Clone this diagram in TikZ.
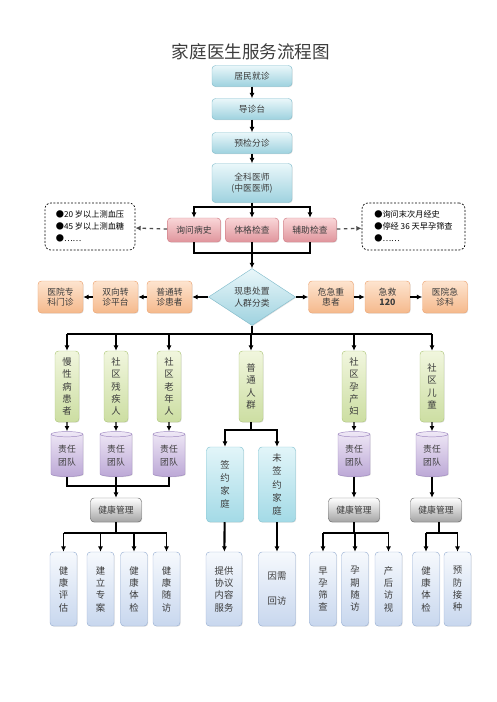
\documentclass[tikz,border=0pt]{standalone}
\usepackage{fontspec}
\setmainfont{Noto Sans CJK SC}
\usetikzlibrary{arrows.meta,shapes.geometric,shadows}

\definecolor{txt}{HTML}{3C3C3C}
\definecolor{blueTop}{HTML}{EAF7FA}
\definecolor{blueBot}{HTML}{9ED2DF}
\definecolor{blueEdge}{HTML}{86BFCE}
\definecolor{pinkTop}{HTML}{F9D6D8}
\definecolor{pinkBot}{HTML}{E0959C}
\definecolor{pinkEdge}{HTML}{D3838B}
\definecolor{orgTop}{HTML}{FDE4CF}
\definecolor{orgBot}{HTML}{F5B98C}
\definecolor{orgEdge}{HTML}{EDA675}
\definecolor{grnTop}{HTML}{F1F6DE}
\definecolor{grnBot}{HTML}{CCDEA2}
\definecolor{grnEdge}{HTML}{B2CA80}
\definecolor{purTop}{HTML}{EFE8F6}
\definecolor{purBot}{HTML}{BCA8D6}
\definecolor{purEdge}{HTML}{9E88C0}
\definecolor{gryBot}{HTML}{A4A4A4}
\definecolor{gryEdge}{HTML}{6A6A6A}
\definecolor{cynTop}{HTML}{E2F5F9}
\definecolor{cynBot}{HTML}{A3DAE6}
\definecolor{cynEdge}{HTML}{88C6D4}
\definecolor{palTop}{HTML}{F6F9FD}
\definecolor{palBot}{HTML}{C8D7EE}
\definecolor{palEdge}{HTML}{9DB3D5}

\tikzset{
  base/.style={rounded corners=3pt, inner sep=0pt, align=center, text=txt,
    font=\fontsize{7.5}{9}\selectfont,
    drop shadow={opacity=0.25, shadow xshift=0.6pt, shadow yshift=-0.6pt}},
  bluebox/.style={base, draw=blueEdge, top color=blueTop, bottom color=blueBot,
    minimum width=2.4cm, minimum height=0.63cm},
  pinkbox/.style={base, draw=pinkEdge, top color=pinkTop, bottom color=pinkBot,
    minimum width=1.6cm, minimum height=0.72cm},
  orgbox/.style={base, draw=orgEdge, top color=orgTop, bottom color=orgBot,
    minimum width=1.35cm, minimum height=0.96cm},
  grnbox/.style={base, draw=grnEdge, top color=grnTop, bottom color=grnBot,
    minimum width=0.72cm, minimum height=2.13cm, font=\fontsize{8}{10.6}\selectfont},
  team/.style={cylinder, shape border rotate=90, aspect=0.3, draw=purEdge,
    top color=purTop, bottom color=purBot, inner sep=0pt, align=center, text=txt,
    minimum width=0.96cm, minimum height=1.35cm, font=\fontsize{7.5}{11}\selectfont,
    drop shadow={opacity=0.25, shadow xshift=0.6pt, shadow yshift=-0.6pt}},
  mgmt/.style={base, draw=gryEdge, top color=white, bottom color=gryBot,
    minimum width=1.53cm, minimum height=0.72cm},
  cynbox/.style={base, draw=cynEdge, top color=cynTop, bottom color=cynBot,
    minimum width=1.11cm, minimum height=2.25cm, font=\fontsize{8}{11.3}\selectfont},
  palbox/.style={base, draw=palEdge, top color=palTop, bottom color=palBot,
    minimum width=0.81cm, minimum height=2.22cm, font=\fontsize{8}{10.5}\selectfont},
  note/.style={draw, rounded corners=5pt, line width=0.6pt, dash pattern=on 1.6pt off 1.4pt,
    align=left, text=black, inner sep=0pt, minimum height=1.41cm,
    font=\fontsize{7}{10.5}\selectfont},
  link/.style={line width=1pt},
  arr/.style={-{Latex[length=1.6mm,width=1.5mm]}, line width=1pt},
  darr/.style={-{Latex[length=1.6mm,width=1.5mm]}, line width=1.1pt, dashed, draw=gray!60!black},
}

\begin{document}
\begin{tikzpicture}[x=0.03cm,y=-0.03cm]
  \useasboundingbox (0,0) rectangle (496,702);
  \node[font=\fontsize{15}{18}\selectfont, text=txt] (title) at (251,52) {家庭医生服务流程图};

  % 就诊流程
  \node[bluebox] (jz) at (252,76) {居民就诊};
  \node[bluebox] (dz) at (252,109) {导诊台};
  \node[bluebox] (fz) at (252,143) {预检分诊};
  \node[bluebox, minimum height=1.17cm] (qk) at (252,183) {全科医师\\(中医医师)};
  \draw[arr] (jz) -- (dz);
  \draw[arr] (dz) -- (fz);
  \draw[arr] (fz) -- (qk);

  % 检查
  \node[pinkbox] (bs) at (194,230) {询问病史};
  \node[pinkbox] (tg) at (252,230) {体格检查};
  \node[pinkbox] (fj) at (310,230) {辅助检查};
  \coordinate (k1) at (252,207);
  \coordinate (k2) at (252,253);
  \draw[link] (qk) -- (k1);
  \draw[arr] (k1) -| (bs);
  \draw[arr] (k1) -| (fj);
  \draw[arr] (k1) -- (tg);
  \draw[link] (bs) |- (k2) -| (fj);

  \node[note, minimum width=2.7cm] (nl) at (90,226.5)
    {●20 岁以上测血压\\●45 岁以上测血糖\\●……};
  \node[note, minimum width=3.09cm] (nr) at (413.5,226.5)
    {●询问末次月经史\\●停经 36 天早孕筛查\\●……};
  \draw[darr] (bs) -- (nl);
  \draw[darr] (fj) -- (nr);

  % 分类
  \node[diamond, aspect=1.5, draw=blueEdge, top color=blueTop, bottom color=blueBot,
    minimum width=2.61cm, minimum height=1.71cm, inner sep=0pt, align=center, text=txt,
    font=\fontsize{7.5}{10.5}\selectfont,
    drop shadow={opacity=0.25, shadow xshift=0.6pt, shadow yshift=-0.6pt}]
    (fl) at (252,297) {现患处置\\人群分类};
  \draw[arr] (tg) -- (fl);

  \node[orgbox] (pz) at (169.5,297) {普通转\\诊患者};
  \node[orgbox] (sx) at (115.5,297) {双向转\\诊平台};
  \node[orgbox] (zk) at (60.5,297) {医院专\\科门诊};
  \node[orgbox] (wj) at (331,297) {危急重\\患者};
  \node[orgbox] (jj) at (387.5,297) {急救\\\textbf{120}};
  \node[orgbox] (jk) at (445,297) {医院急\\诊科};
  \draw[arr] (fl) -- (pz);
  \draw[arr] (pz) -- (sx);
  \draw[arr] (sx) -- (zk);
  \draw[arr] (fl) -- (wj);
  \draw[arr] (wj) -- (jj);
  \draw[arr] (jj) -- (jk);

  % 人群
  \node[grnbox] (mx) at (67,386.5) {慢\\性\\病\\患\\者};
  \node[grnbox] (cj) at (116,386.5) {社\\区\\残\\疾\\人};
  \node[grnbox] (ln) at (169,386.5) {社\\区\\老\\年\\人};
  \node[grnbox] (pt) at (251,386.5) {普\\通\\人\\群};
  \node[grnbox] (yc) at (354,386.5) {社\\区\\孕\\产\\妇};
  \node[grnbox] (et) at (432,386.5) {社\\区\\儿\\童};
  \coordinate (k3) at (252,334);
  \draw[link] (fl) -- (k3);
  \draw[link] (mx |- k3) -- (et |- k3);
  \foreach \n in {mx,cj,ln,pt,yc,et}
    \draw[arr] (\n |- k3) -- (\n);

  % 责任团队
  \foreach \n/\x in {mx/67,cj/116,ln/169,yc/354,et/432} {
    \node[team] (t\n) at (\x,455.5) {责任\\团队};
    \draw[arr] (\n) -- (t\n);
  }

  % 健康管理
  \node[mgmt] (g1) at (116,510) {健康管理};
  \node[mgmt] (g2) at (354,510) {健康管理};
  \node[mgmt] (g3) at (436,510) {健康管理};
  \coordinate (k4) at (116,486);
  \draw[link] (tmx) |- (k4) -| (tln);
  \draw[arr] (tcj) -- (g1);
  \draw[arr] (tyc) -- (g2);
  \draw[arr] (tet) -- (tet |- g3.north);

  % 普通人群分支
  \node[cynbox] (qy) at (225,484.5) {签\\约\\家\\庭};
  \node[cynbox] (wq) at (277,484.5) {未\\签\\约\\家\\庭};
  \coordinate (k5) at (251,430);
  \draw[link, line width=1.8pt] (pt) -- (k5);
  \draw[arr, line width=1.8pt] (k5) -| (qy);
  \draw[arr, line width=1.8pt] (k5) -| (wq);

  % 服务内容
  \node[palbox] (b1) at (63.5,589) {健\\康\\评\\估};
  \node[palbox] (b2) at (100.5,589) {建\\立\\专\\案};
  \node[palbox] (b3) at (134,589) {健\\康\\体\\检};
  \node[palbox] (b4) at (166.5,589) {健\\康\\随\\访};
  \node[palbox, minimum width=1.08cm] (b5) at (224,589) {提供\\协议\\内容\\服务};
  \node[palbox, minimum width=1.11cm] (b6) at (277,589) {因需\\[11pt]回访};
  \node[palbox] (b7) at (323,589) {早\\孕\\筛\\查};
  \node[palbox] (b8) at (355,589) {孕\\期\\随\\访};
  \node[palbox] (b9) at (388.5,589) {产\\后\\访\\视};
  \node[palbox] (b10) at (426,589) {健\\康\\体\\检};
  \node[palbox] (b11) at (457.5,589) {预\\防\\接\\种};

  \coordinate (k6) at (116,533);
  \coordinate (k7) at (354,533);
  \coordinate (k8) at (439,533);
  \draw[link] (g1) -- (k6);
  \draw[link] (b1 |- k6) -- (b4 |- k6);
  \foreach \n in {b1,b2,b3,b4}
    \draw[arr] (\n |- k6) -- (\n);
  \draw[link] (g2) -- (k7);
  \draw[link] (b7 |- k7) -- (b9 |- k7);
  \foreach \n in {b7,b8,b9}
    \draw[arr] (\n |- k7) -- (\n);
  \draw[link] (g3.south -| k8) -- (k8);
  \draw[link] (b10 |- k8) -- (b11 |- k8);
  \foreach \n in {b10,b11}
    \draw[arr] (\n |- k8) -- (\n);
  \draw[arr, line width=1.8pt] (qy) -- (b5);
  \draw[arr, line width=1.8pt] (wq) -- (b6);
\end{tikzpicture}
\end{document}
